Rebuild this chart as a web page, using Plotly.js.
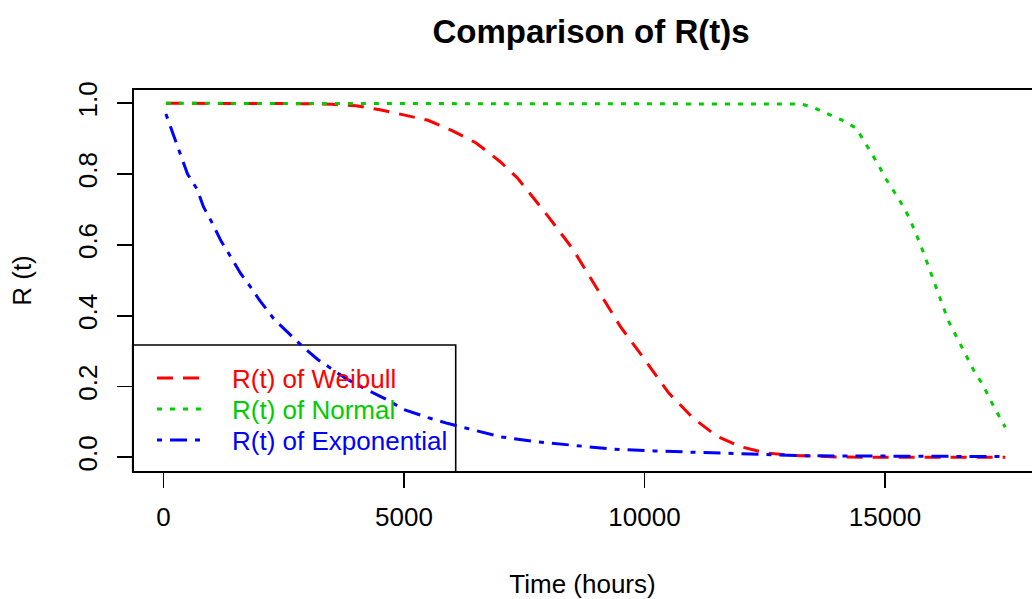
<!DOCTYPE html>
<html>
<head>
<meta charset="utf-8">
<script src="https://cdn.plot.ly/plotly-3.0.1.min.js"></script>
<style>
  html, body { margin: 0; padding: 0; background: #fff; overflow: hidden; }
  #chart { width: 1032px; height: 599px; }
</style>
</head>
<body>
<div id="chart"></div>
<script>
// ---- data ----
const weibullT = [50, 1000, 2000, 3000, 3500, 4000, 4500, 5000, 5500, 6000, 6500, 7000, 7350, 7500, 8000, 8500, 9000, 9500, 10000, 10500, 11000, 11500, 12000, 12500, 13000, 13500, 14000, 15000, 16000, 17500];
const weibullR = [1.0, 1.0, 1.0, 0.999, 0.997, 0.993, 0.982, 0.968, 0.952, 0.923, 0.888, 0.835, 0.79, 0.765, 0.68, 0.59, 0.48, 0.369, 0.277, 0.182, 0.112, 0.06, 0.03, 0.013, 0.006, 0.003, 0.001, 0.0, 0.0, 0.0];

const normalT = [50, 2000, 4000, 6000, 8000, 10000, 12000, 13000, 13250, 13500, 13800, 14100, 14400, 14550, 14700, 14875, 15000, 15200, 15350, 15500, 15620, 15725, 15830, 15930, 16035, 16125, 16225, 16315, 16450, 16590, 16730, 16870, 17040, 17180, 17320, 17500];
const normalR = [1.0, 1.0, 1.0, 1.0, 1.0, 1.0, 1.0, 1.0, 0.998, 0.989, 0.972, 0.953, 0.93, 0.898, 0.863, 0.823, 0.79, 0.748, 0.715, 0.678, 0.64, 0.605, 0.567, 0.529, 0.493, 0.456, 0.421, 0.386, 0.35, 0.314, 0.277, 0.239, 0.204, 0.164, 0.129, 0.085];

const expT = [50, 350, 500, 700, 830, 1000, 1200, 1400, 1600, 1800, 2000, 2300, 2600, 2900, 3200, 3500, 3800, 4200, 4600, 5000, 5500, 5900, 6300, 7000, 7750, 8500, 9350, 10200, 11000, 11850, 12700, 13250, 14000, 15000, 16000, 17500];
const expR = [0.97, 0.857, 0.8, 0.757, 0.708, 0.665, 0.61, 0.566, 0.52, 0.483, 0.443, 0.39, 0.35, 0.312, 0.277, 0.25, 0.222, 0.193, 0.166, 0.135, 0.112, 0.096, 0.082, 0.058, 0.044, 0.035, 0.023, 0.018, 0.015, 0.011, 0.0085, 0.0045, 0.004, 0.003, 0.003, 0.002];

const seriesNames = ["R(t) of Weibull", "R(t) of Normal", "R(t) of Exponential"];
const seriesColors = ["#FF0000", "#00CD00", "#0000FF"];
const seriesDash = ["16px,10px", "5px,8px", "5px,8px,17px,8px"];
const xTicks = [0, 5000, 10000, 15000];
const yTicks = [0, 0.2, 0.4, 0.6, 0.8, 1.0];
const yTickText = ["0.0", "0.2", "0.4", "0.6", "0.8", "1.0"];

const FONT = "Liberation Sans, Arial, Helvetica, sans-serif";
const FS = 26;

// plot area in pixels (for placing the legend box)
const PL = 133, PR = 1032, PT = 89, PB = 472;
const px2x = p => (p - PL) / (PR - PL);
const px2y = p => (PB - p) / (PB - PT);

const xs = [weibullT, normalT, expT];
const ys = [weibullR, normalR, expR];
const traces = seriesNames.map((n, i) => ({
  x: xs[i], y: ys[i], name: n, mode: "lines", showlegend: false,
  line: { color: seriesColors[i], width: 3, dash: seriesDash[i] }
}));

// legend (R-style box legend)
const legendRowsY = [378, 409, 440];
const shapes = [
  { type: "rect", xref: "paper", yref: "paper", x0: 0, x1: 1.02, y0: 0, y1: 1,
    line: { color: "#000", width: 2 }, fillcolor: "rgba(0,0,0,0)", layer: "above" },
  { type: "rect", xref: "paper", yref: "paper", x0: px2x(132.7), x1: px2x(455.7), y0: 0, y1: px2y(345),
    line: { color: "#000", width: 1.6 }, fillcolor: "rgba(0,0,0,0)", layer: "below" }
];
const annotations = [];
seriesNames.forEach((n, i) => {
  shapes.push({ type: "line", xref: "paper", yref: "paper",
    x0: px2x(157), x1: px2x(201), y0: px2y(legendRowsY[i]), y1: px2y(legendRowsY[i]),
    line: { color: seriesColors[i], width: 3, dash: seriesDash[i] } });
  annotations.push({ xref: "paper", yref: "paper", x: px2x(230), y: px2y(legendRowsY[i] + 1),
    xanchor: "left", yanchor: "middle", showarrow: false, text: n,
    font: { family: FONT, size: FS, color: seriesColors[i] } });
});

const layout = {
  width: 1032, height: 599,
  paper_bgcolor: "#fff", plot_bgcolor: "#fff",
  margin: { l: PL, r: 0, t: PT, b: 599 - PB, pad: 0 },
  font: { family: FONT, size: FS, color: "#000" },
  title: { text: "Comparison of R(t)s", xref: "container", yref: "container",
           x: 591 / 1032, xanchor: "center", y: 1 - 31 / 599, yanchor: "middle",
           font: { family: FONT, size: 33, color: "#000", weight: "bold" } },
  showlegend: false,
  xaxis: { range: [-634, 18056], tickvals: xTicks, ticktext: xTicks.map(String),
           ticks: "outside", ticklen: 15, tickwidth: 1.8, tickcolor: "#000",
           showgrid: false, zeroline: false, showline: false,
           tickfont: { family: FONT, size: FS, color: "#000" },
           ticklabelstandoff: 7,
           title: { text: "Time (hours)", standoff: 43, font: { family: FONT, size: FS, color: "#000" } },
           automargin: false },
  yaxis: { range: [-0.0415, 1.0404], tickvals: yTicks, ticktext: yTickText,
           ticks: "outside", ticklen: 15, tickwidth: 1.8, tickcolor: "#000",
           tickangle: -90,
           showgrid: false, zeroline: false, showline: false,
           tickfont: { family: FONT, size: FS, color: "#000" },
           ticklabelstandoff: 10,
           title: { text: "R (t)", standoff: 33, font: { family: FONT, size: FS, color: "#000" } },
           automargin: false },
  shapes: shapes,
  annotations: annotations
};

Plotly.newPlot("chart", traces, layout, { staticPlot: true, displayModeBar: false });
</script>
</body>
</html>
